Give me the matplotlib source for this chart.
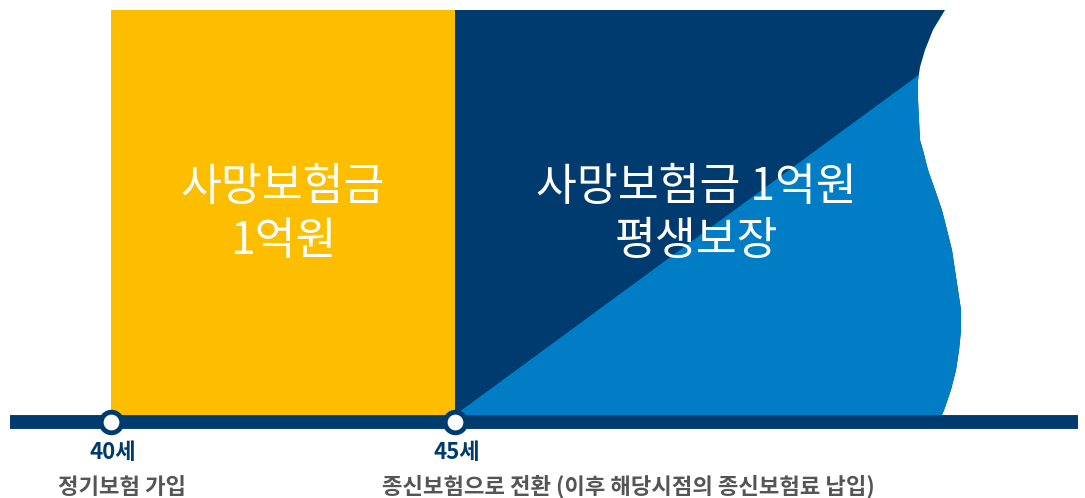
import numpy as np
import matplotlib.pyplot as plt
from matplotlib.patches import Polygon, Rectangle

plt.rcParams['font.family'] = ['Noto Sans CJK KR', 'DejaVu Sans']

# 가입 나이 (세)
ages = [40, 45]
age_labels = ['40세', '45세']
event_labels = ['정기보험 가입', '종신보험으로 전환 (이후 해당시점의 종신보험료 납입)']
box_texts = ['사망보험금\n1억원', '사망보험금 1억원\n평생보장']
coverage = 1.0  # 1억원

# 오른쪽 물결 모양 경계 (나이, 보장금액 비율)
wave_age = [52.122, 51.948, 51.831, 51.759, 51.730, 51.730, 51.744, 51.759, 51.802, 51.875,
            51.977, 52.078, 52.151, 52.224, 52.267, 52.311, 52.355, 52.355, 52.326, 52.282,
            52.209, 52.108, 52.078]
wave_amt = [1.000, 0.951, 0.901, 0.859, 0.827, 0.778, 0.728, 0.679, 0.654, 0.605,
            0.556, 0.506, 0.457, 0.407, 0.358, 0.309, 0.259, 0.210, 0.160, 0.111,
            0.062, 0.012, 0.000]
split_amt = 0.840  # 대각선이 물결과 만나는 높이

yellow = '#FDBE00'
navy = '#003B6F'
blue = '#007DC5'
gray = '#555555'

fig = plt.figure(figsize=(10.85, 4.98), dpi=100)
ax = fig.add_axes([0, 0, 1, 1])
px = 68.8  # 1년당 픽셀
ax.set_xlim(40 - 111 / px, 40 + 974 / px)
ax.set_ylim(-83 / 405, 415 / 405)
ax.axis('off')

# 정기보험 구간
ax.add_patch(Rectangle((ages[0], 0), ages[1] - ages[0], coverage, color=yellow, lw=0))

# 종신보험 구간 (짙은 남색)
wa = np.array(wave_age)
wm = np.array(wave_amt)
dark = [(ages[1], 0), (ages[1], coverage)] + list(zip(wa, wm))
ax.add_patch(Polygon(dark, closed=True, color=navy, lw=0))

# 대각선 아래 밝은 파랑
idx = np.where(wm <= split_amt)[0][0]
split_age = np.interp(split_amt, [wm[idx], wm[idx - 1]], [wa[idx], wa[idx - 1]])
light = [(ages[1], 0), (split_age, split_amt)] + list(zip(wa[idx:], wm[idx:]))
ax.add_patch(Polygon(light, closed=True, color=blue, lw=0))

# 타임라인
line_y = -7 / 405
ax.plot([40 - 101 / px, 40 + 967 / px], [line_y, line_y], color=navy, lw=10,
        solid_capstyle='butt', zorder=3)
ax.scatter(ages, [line_y] * 2, s=220, facecolor='white', edgecolor=navy, linewidth=3.5, zorder=4)

# 박스 안 텍스트
ax.text(ages[0] + 172 / px, 0.496, box_texts[0], color='white', fontsize=32, ha='center',
        va='center', linespacing=1.22, fontweight=300)
ax.text(ages[1] + 241 / px, 0.496, box_texts[1], color='white', fontsize=32, ha='center',
        va='center', linespacing=1.22, fontweight=300)

# 아래 라벨
for a, lab in zip(ages, age_labels):
    ax.text(a + 2 / px, -37 / 405, lab, color=navy, fontsize=16, fontweight='bold',
            ha='center', va='center')
ax.text(ages[0] + 11 / px, -72 / 405, event_labels[0], color=gray, fontsize=16, fontweight='bold',
        ha='center', va='center')
ax.text(ages[1] + 173 / px, -72 / 405, event_labels[1], color=gray, fontsize=16, fontweight='bold',
        ha='center', va='center')

fig.savefig('out.png', dpi=100)
